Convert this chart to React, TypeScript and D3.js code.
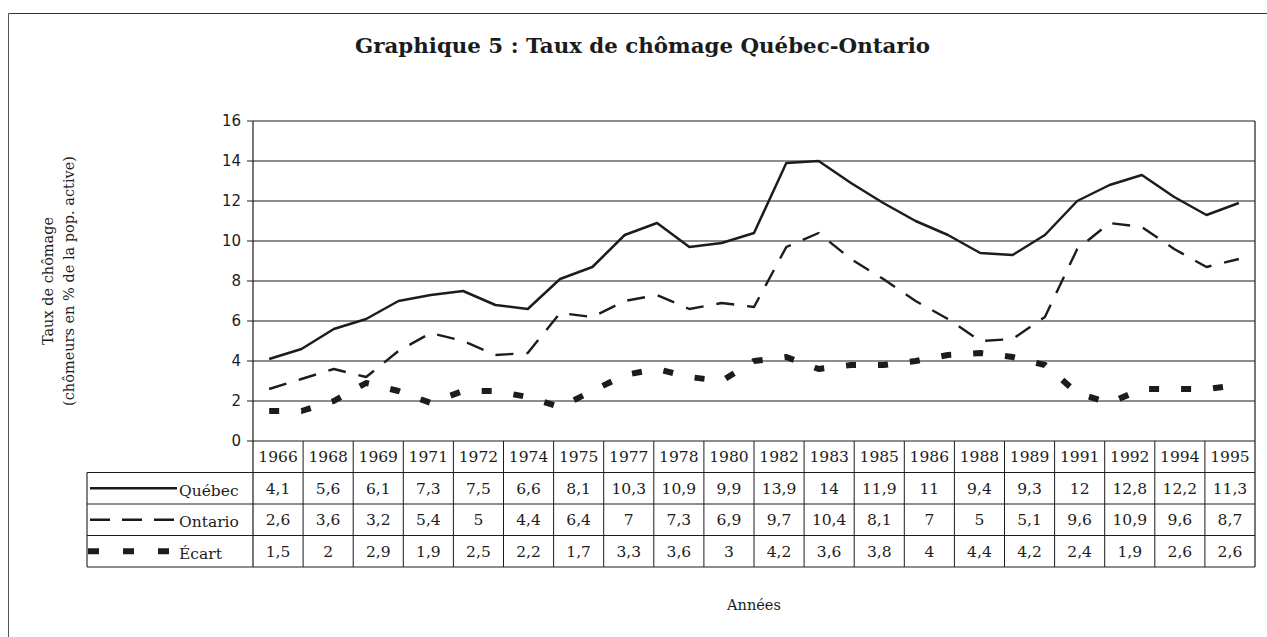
import React from "react";
import * as d3 from "d3";

// Yearly series (lines): 1966–1996
const lineYears = [1966, 1967, 1968, 1969, 1970, 1971, 1972, 1973, 1974, 1975, 1976, 1977, 1978, 1979, 1980, 1981, 1982, 1983, 1984, 1985, 1986, 1987, 1988, 1989, 1990, 1991, 1992, 1993, 1994, 1995, 1996];
const quebecLine = [4.1, 4.6, 5.6, 6.1, 7.0, 7.3, 7.5, 6.8, 6.6, 8.1, 8.7, 10.3, 10.9, 9.7, 9.9, 10.4, 13.9, 14, 12.9, 11.9, 11, 10.3, 9.4, 9.3, 10.3, 12, 12.8, 13.3, 12.2, 11.3, 11.9];
const ontarioLine = [2.6, 3.1, 3.6, 3.2, 4.5, 5.4, 5, 4.3, 4.4, 6.4, 6.2, 7, 7.3, 6.6, 6.9, 6.7, 9.7, 10.4, 9.1, 8.1, 7, 6.1, 5, 5.1, 6.2, 9.6, 10.9, 10.7, 9.6, 8.7, 9.1];
const ecartLine = [1.5, 1.5, 2, 2.9, 2.5, 1.9, 2.5, 2.5, 2.2, 1.7, 2.5, 3.3, 3.6, 3.2, 3, 4, 4.2, 3.6, 3.8, 3.8, 4, 4.3, 4.4, 4.2, 3.8, 2.4, 1.9, 2.6, 2.6, 2.6, 2.8];

// Data table
const tableYears = ["1966", "1968", "1969", "1971", "1972", "1974", "1975", "1977", "1978", "1980", "1982", "1983", "1985", "1986", "1988", "1989", "1991", "1992", "1994", "1995"];
const tableQuebec = ["4,1", "5,6", "6,1", "7,3", "7,5", "6,6", "8,1", "10,3", "10,9", "9,9", "13,9", "14", "11,9", "11", "9,4", "9,3", "12", "12,8", "12,2", "11,3"];
const tableOntario = ["2,6", "3,6", "3,2", "5,4", "5", "4,4", "6,4", "7", "7,3", "6,9", "9,7", "10,4", "8,1", "7", "5", "5,1", "9,6", "10,9", "9,6", "8,7"];
const tableEcart = ["1,5", "2", "2,9", "1,9", "2,5", "2,2", "1,7", "3,3", "3,6", "3", "4,2", "3,6", "3,8", "4", "4,4", "4,2", "2,4", "1,9", "2,6", "2,6"];

const yTicks = [0, 2, 4, 6, 8, 10, 12, 14, 16];

const seriesNames = ["Québec", "Ontario", "Écart"];

const W = 1267;
const H = 637;
const plotL = 253;
const plotR = 1255;
const plotT = 121;
const plotB = 441;
const tableL = 87;
const rowH = 31.5;

const ink = "#1c1c1c";
const serif = "'DejaVu Serif', serif";
const sans = "'DejaVu Sans', sans-serif";

const styles = [
  { width: 2.5, dash: "none" },
  { width: 2.4, dash: "18 13" },
  { width: 6, dash: "10 22" },
];

export default function App() {
  const y = d3.scaleLinear().domain([0, 16]).range([plotB, plotT]);
  const xLine = d3.scaleBand<number>().domain(lineYears).range([plotL, plotR]);
  const xTab = d3.scaleBand<string>().domain(tableYears).range([plotL, plotR]);
  const bw = xLine.bandwidth();
  const tbw = xTab.bandwidth();

  const allSeries = [quebecLine, ontarioLine, ecartLine];
  const tableRows = [tableQuebec, tableOntario, tableEcart];

  const line = d3
    .line<number>()
    .x((_, i) => (xLine(lineYears[i]) as number) + bw / 2)
    .y((d) => y(d));

  const headerBottom = plotB + rowH;
  const tableBottom = headerBottom + rowH * 3;

  return (
    <div style={{ position: "fixed", left: 0, top: 0, background: "#fff" }}>
      <svg width={W} height={H} style={{ display: "block" }}>
        <rect x={0} y={0} width={W} height={H} fill="#fff" />
        {/* outer frame */}
        <line x1={8.5} y1={13.5} x2={W} y2={13.5} stroke="#333" strokeWidth={1.2} />
        <line x1={8.5} y1={13.5} x2={8.5} y2={H} stroke="#555" strokeWidth={1} />

        {/* title */}
        <text
          x={355}
          y={53}
          textLength={575}
          lengthAdjust="spacingAndGlyphs"
          fontFamily={serif}
          fontWeight="bold"
          fontSize={19.5}
          fill={ink}
        >
          Graphique 5 : Taux de chômage Québec-Ontario
        </text>

        {/* gridlines */}
        {yTicks.map((t) => (
          <line key={"g" + t} x1={plotL} x2={plotR} y1={y(t)} y2={y(t)} stroke={ink} strokeWidth={1.1} />
        ))}
        {/* y ticks & labels */}
        {yTicks.map((t) => (
          <g key={"t" + t}>
            <line x1={plotL - 6} x2={plotL} y1={y(t)} y2={y(t)} stroke={ink} strokeWidth={1} />
            <text x={plotL - 12} y={y(t)} dy="0.36em" textAnchor="end" fontFamily={sans} fontSize={15} fill={ink}>
              {t}
            </text>
          </g>
        ))}
        {/* plot border: left axis, right */}
        <line x1={plotL} x2={plotL} y1={plotT} y2={tableBottom} stroke={ink} strokeWidth={1.2} />
        <line x1={plotR} x2={plotR} y1={plotT} y2={tableBottom} stroke={ink} strokeWidth={1.2} />

        {/* y axis title */}
        <g transform={`translate(53, ${(plotT + plotB) / 2}) rotate(-90)`}>
          <text x={0} y={0} textAnchor="middle" fontFamily={serif} fontSize={14.5} fill={ink}>
            Taux de chômage
          </text>
          <text x={0} y={21} textAnchor="middle" fontFamily={serif} fontSize={14.5} fill={ink}>
            (chômeurs en % de la pop. active)
          </text>
        </g>

        {/* series lines */}
        {allSeries.map((s, k) => (
          <path
            key={"s" + k}
            d={line(s) as string}
            fill="none"
            stroke={ink}
            strokeWidth={styles[k].width}
            strokeDasharray={styles[k].dash}
            strokeLinejoin="round"
          />
        ))}

        {/* data table */}
        {[headerBottom, headerBottom + rowH, headerBottom + rowH * 2, tableBottom].map((yy, i) => (
          <line key={"h" + i} x1={tableL} x2={plotR} y1={yy} y2={yy} stroke={ink} strokeWidth={1.1} />
        ))}
        <line x1={tableL} x2={tableL} y1={headerBottom} y2={tableBottom} stroke={ink} strokeWidth={1.1} />
        {tableYears.map((yr, i) => {
          const x0 = xTab(yr) as number;
          return (
            <g key={"c" + yr}>
              {i > 0 && <line x1={x0} x2={x0} y1={plotB} y2={tableBottom} stroke={ink} strokeWidth={1} />}
              <text x={x0 + tbw / 2} y={plotB + rowH / 2} dy="0.36em" textAnchor="middle" fontFamily={serif} fontSize={15.5} fill={ink}>
                {yr}
              </text>
              {tableRows.map((row, r) => (
                <text
                  key={"v" + r}
                  x={x0 + tbw / 2}
                  y={headerBottom + rowH * r + rowH / 2}
                  dy="0.36em"
                  textAnchor="middle"
                  fontFamily={serif}
                  fontSize={15.5}
                  fill={ink}
                >
                  {row[i]}
                </text>
              ))}
            </g>
          );
        })}
        {/* legend keys in table */}
        {seriesNames.map((nm, r) => {
          const cy = headerBottom + rowH * r + rowH / 2;
          return (
            <g key={"l" + nm}>
              <line
                x1={r === 2 ? tableL + 1 : tableL + 3}
                x2={r === 0 ? 177 : r === 1 ? 176 : 170}
                y1={cy}
                y2={cy}
                stroke={ink}
                strokeWidth={styles[r].width}
                strokeDasharray={r === 0 ? "none" : r === 1 ? "20 12" : "11 24"}
              />
              <text x={179} y={cy + 2} dy="0.36em" fontFamily={serif} fontSize={15.5} fill={ink}>
                {nm}
              </text>
            </g>
          );
        })}

        {/* x axis title */}
        <text x={(plotL + plotR) / 2} y={605} dy="0.36em" textAnchor="middle" fontFamily={serif} fontSize={14.5} fill={ink}>
          Années
        </text>
      </svg>
    </div>
  );
}
